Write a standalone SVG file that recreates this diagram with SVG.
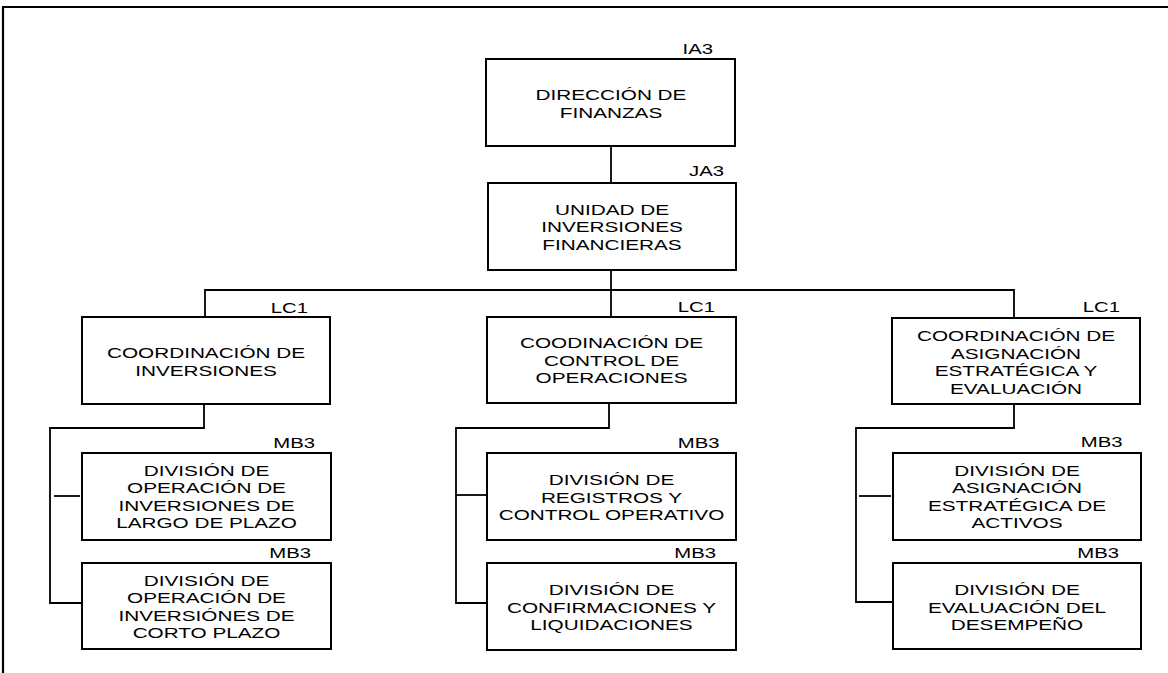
<svg xmlns="http://www.w3.org/2000/svg" width="1168" height="673" viewBox="0 0 1168 673">
<style>
.box{fill:#fff;stroke:#000;stroke-width:2}
.c{fill:none;stroke:#000;stroke-width:1.8}
.frame{fill:none;stroke:#000;stroke-width:2.2}
text{font-family:"Liberation Sans",Arial,sans-serif;font-size:14.5px;fill:#000}
.t{text-anchor:middle}
.l{text-anchor:end}
</style>
<rect x="0" y="0" width="1168" height="673" fill="#fff"/>
<g id="frame">
<line class="frame" x1="4" y1="7" x2="1168" y2="7"/>
<line class="frame" x1="3" y1="6" x2="3" y2="673"/>
</g>
<g id="connectors">
<path class="c" d="M611,146 V183"/>
<path class="c" d="M611,270 V317"/>
<path class="c" d="M205,317 V290 H1014 V318"/>
<path class="c" d="M204,404 V428 H50 V603 H82"/>
<path class="c" d="M54,496 H80"/>
<path class="c" d="M609,403 V428 H456 V603 H487"/>
<path class="c" d="M456,495 H487"/>
<path class="c" d="M1014,404 V428 H856 V602 H893"/>
<path class="c" d="M859,496 H891"/>
</g>
<g id="n-direccion">
<rect class="box" x="486" y="59" width="249" height="87"/>
<text class="l" transform="translate(713,54) scale(1.4,1)">IA3</text>
<text class="t" transform="translate(611,100) scale(1.43,1)">DIRECCIÓN DE</text>
<text class="t" transform="translate(611,117.5) scale(1.43,1)">FINANZAS</text>
</g>
<g id="n-unidad">
<rect class="box" x="488" y="183" width="248" height="87"/>
<text class="l" transform="translate(724,176) scale(1.4,1)">JA3</text>
<text class="t" transform="translate(612,214.5) scale(1.43,1)">UNIDAD DE</text>
<text class="t" transform="translate(612,232) scale(1.43,1)">INVERSIONES</text>
<text class="t" transform="translate(612,249.5) scale(1.43,1)">FINANCIERAS</text>
</g>
<g id="n-coord-inversiones">
<rect class="box" x="82" y="317" width="248" height="87"/>
<text class="l" transform="translate(308,312.5) scale(1.4,1)">LC1</text>
<text class="t" transform="translate(206,358) scale(1.43,1)">COORDINACIÓN DE</text>
<text class="t" transform="translate(206,375.5) scale(1.43,1)">INVERSIONES</text>
</g>
<g id="n-coord-control">
<rect class="box" x="487" y="317" width="249" height="86"/>
<text class="l" transform="translate(715,312) scale(1.4,1)">LC1</text>
<text class="t" transform="translate(611.5,348) scale(1.43,1)">COODINACIÓN DE</text>
<text class="t" transform="translate(611.5,365.5) scale(1.43,1)">CONTROL DE</text>
<text class="t" transform="translate(611.5,383) scale(1.43,1)">OPERACIONES</text>
</g>
<g id="n-coord-asignacion">
<rect class="box" x="892" y="318" width="248" height="86"/>
<text class="l" transform="translate(1120,312) scale(1.4,1)">LC1</text>
<text class="t" transform="translate(1016,341) scale(1.43,1)">COORDINACIÓN DE</text>
<text class="t" transform="translate(1016,358.5) scale(1.43,1)">ASIGNACIÓN</text>
<text class="t" transform="translate(1016,376) scale(1.43,1)">ESTRATÉGICA Y</text>
<text class="t" transform="translate(1016,393.5) scale(1.43,1)">EVALUACIÓN</text>
</g>
<g id="n-div-largo">
<rect class="box" x="82" y="453" width="249" height="87"/>
<text class="l" transform="translate(315,447.5) scale(1.4,1)">MB3</text>
<text class="t" transform="translate(206.5,475.5) scale(1.43,1)">DIVISIÓN DE</text>
<text class="t" transform="translate(206.5,493) scale(1.43,1)">OPERACIÓN DE</text>
<text class="t" transform="translate(206.5,510.5) scale(1.43,1)">INVERSIONES DE</text>
<text class="t" transform="translate(206.5,528) scale(1.43,1)">LARGO DE PLAZO</text>
</g>
<g id="n-div-corto">
<rect class="box" x="82" y="563" width="249" height="86"/>
<text class="l" transform="translate(311,558) scale(1.4,1)">MB3</text>
<text class="t" transform="translate(206.5,585.5) scale(1.43,1)">DIVISIÓN DE</text>
<text class="t" transform="translate(206.5,603) scale(1.43,1)">OPERACIÓN DE</text>
<text class="t" transform="translate(206.5,620.5) scale(1.43,1)">INVERSIÓNES DE</text>
<text class="t" transform="translate(206.5,638) scale(1.43,1)">CORTO PLAZO</text>
</g>
<g id="n-div-registros">
<rect class="box" x="487" y="453" width="249" height="87"/>
<text class="l" transform="translate(719.5,447.5) scale(1.4,1)">MB3</text>
<text class="t" transform="translate(611.5,485) scale(1.43,1)">DIVISIÓN DE</text>
<text class="t" transform="translate(611.5,502.5) scale(1.43,1)">REGISTROS Y</text>
<text class="t" transform="translate(611.5,520) scale(1.43,1)">CONTROL OPERATIVO</text>
</g>
<g id="n-div-confirmaciones">
<rect class="box" x="487" y="563" width="249" height="87"/>
<text class="l" transform="translate(716,558) scale(1.4,1)">MB3</text>
<text class="t" transform="translate(611.5,595) scale(1.43,1)">DIVISIÓN DE</text>
<text class="t" transform="translate(611.5,612.5) scale(1.43,1)">CONFIRMACIONES Y</text>
<text class="t" transform="translate(611.5,630) scale(1.43,1)">LIQUIDACIONES</text>
</g>
<g id="n-div-activos">
<rect class="box" x="893" y="453" width="248" height="87"/>
<text class="l" transform="translate(1122.5,447) scale(1.4,1)">MB3</text>
<text class="t" transform="translate(1017,475.5) scale(1.43,1)">DIVISIÓN DE</text>
<text class="t" transform="translate(1017,493) scale(1.43,1)">ASIGNACIÓN</text>
<text class="t" transform="translate(1017,510.5) scale(1.43,1)">ESTRATÉGICA DE</text>
<text class="t" transform="translate(1017,528) scale(1.43,1)">ACTIVOS</text>
</g>
<g id="n-div-desempeno">
<rect class="box" x="893" y="563" width="248" height="86"/>
<text class="l" transform="translate(1119,557.5) scale(1.4,1)">MB3</text>
<text class="t" transform="translate(1017,595) scale(1.43,1)">DIVISIÓN DE</text>
<text class="t" transform="translate(1017,612.5) scale(1.43,1)">EVALUACIÓN DEL</text>
<text class="t" transform="translate(1017,630) scale(1.43,1)">DESEMPEÑO</text>
</g>
</svg>
